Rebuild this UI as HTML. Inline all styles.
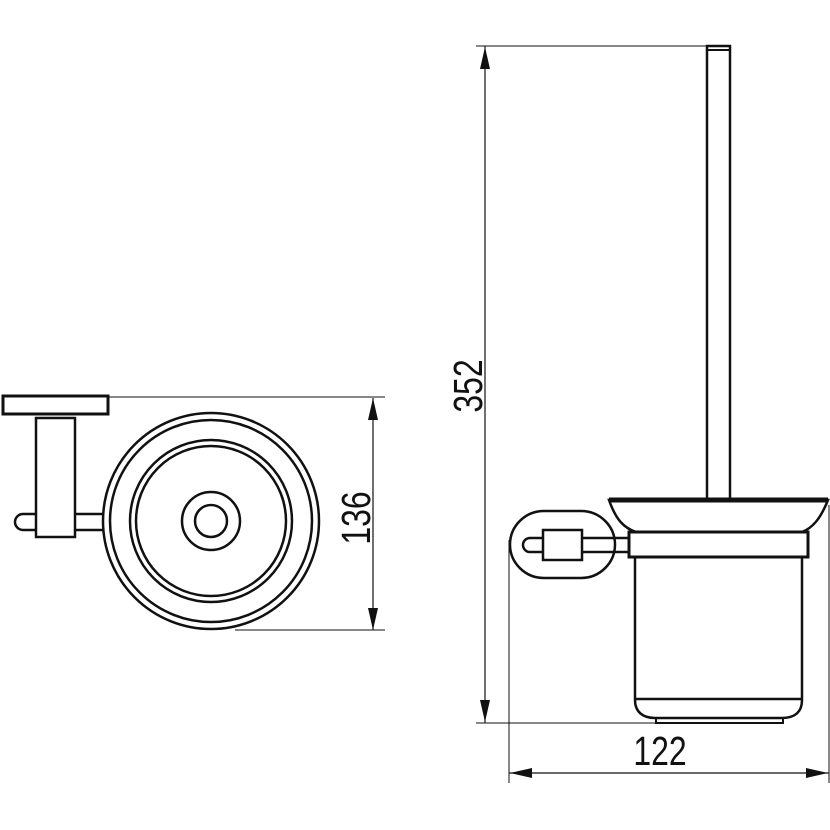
<!DOCTYPE html>
<html><head><meta charset="utf-8"><style>html,body{margin:0;padding:0;background:#fff}svg{display:block}</style></head>
<body>
<svg width="830" height="830" viewBox="0 0 830 830" xmlns="http://www.w3.org/2000/svg">
<g fill="none" stroke="#111">
<rect x="3" y="396" width="105" height="18" stroke-width="3"/>
<rect x="36" y="418" width="39" height="119" stroke-width="2.5"/>
<path d="M36,514 H23 A8,8 0 0 0 23,530 H36 M75,514 H104 M75,530 H104" stroke-width="2.5"/>
<circle cx="211" cy="521" r="108" stroke-width="2.5"/>
<circle cx="211" cy="521" r="101" stroke-width="2.5"/>
<circle cx="211" cy="521" r="81" stroke-width="2.5"/>
<circle cx="211" cy="521" r="75" stroke-width="2.5"/>
<circle cx="211" cy="521" r="29" stroke-width="2.5"/>
<circle cx="211" cy="521" r="16" stroke-width="2.5"/>
<path d="M108,397 H385 M235,630 H385" stroke-width="1"/>
<path d="M373,398 V630" stroke-width="1.2"/>
<rect x="707" y="46" width="23" height="454" stroke-width="2.5"/>
<path d="M707,50 H730" stroke-width="2"/>
<path d="M609,500 H828 C820,520 812,528 802,532 H636 C624,528 616,520 609,500 Z" stroke-width="2.5"/>
<path d="M609,500 H828" stroke-width="5"/>
<rect x="629" y="532" width="179" height="25" stroke-width="3"/>
<path d="M635,557 V700 C635,712 643,718 655,718 H782 C795,718 802,712 802,700 V557" stroke-width="2.5"/>
<path d="M635,699 H802" stroke-width="2.5"/>
<rect x="656" y="718" width="127" height="5" stroke-width="2"/>
<rect x="510" y="511" width="105" height="67" rx="34" ry="34" stroke-width="2.5"/>
<rect x="543" y="530" width="39" height="30" stroke="#111" fill="#fff" stroke-width="2.5"/>
<path d="M543,538 H530 A7,7 0 0 0 530,552 H543 M582,538 H629 M582,552 H629" stroke-width="2.5"/>
<path d="M476,46 H715 M476,723 H656" stroke-width="1"/>
<path d="M485,46 V723" stroke-width="1.2"/>
<path d="M509,540 V783 M829,505 V783" stroke-width="1"/>
<path d="M509,773 H829" stroke-width="1.2"/>
</g>
<g fill="#111">
<polygon points="373,398 368,420 378,420"/>
<polygon points="373,630 368,608 378,608"/>
<polygon points="485,47 480,69 490,69"/>
<polygon points="485,722 480,700 490,700"/>
<polygon points="510,773 532,768 532,778"/>
<polygon points="828,773 806,768 806,778"/>
</g>
<g font-family="'Liberation Sans', sans-serif" fill="#111" font-size="41">
<text transform="translate(660,765) scale(0.78,1)" text-anchor="middle">122</text>
<text transform="translate(482,386) rotate(-90) scale(0.78,1)" text-anchor="middle">352</text>
<text transform="translate(370,518) rotate(-90) scale(0.78,1)" text-anchor="middle">136</text>
</g>
</svg>
</body></html>
